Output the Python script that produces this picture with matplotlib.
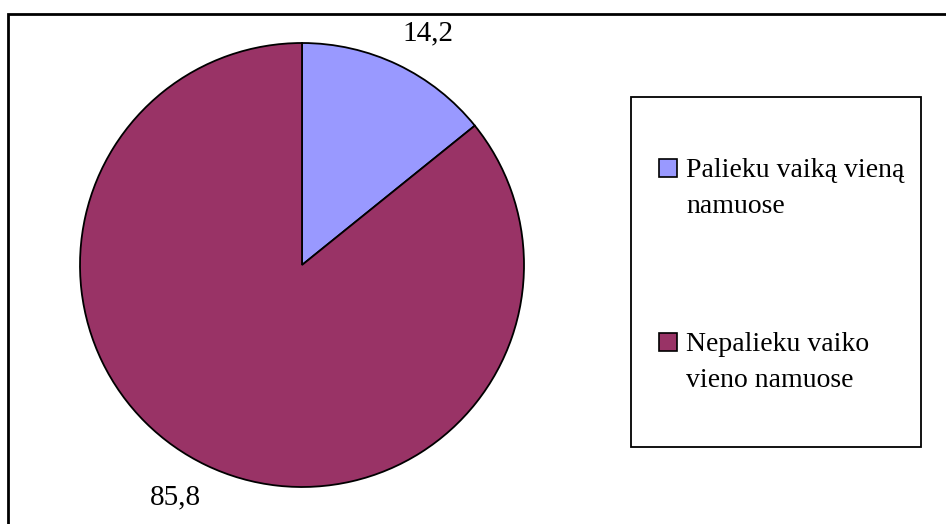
import numpy as np
import matplotlib.pyplot as plt
from matplotlib.patches import Rectangle

labels = ['Palieku vaiką vieną\nnamuose', 'Nepalieku vaiko\nvieno namuose']
values = [14.2, 85.8]
value_text = ['14,2', '85,8']
colors = ['#9999FF', '#993366']

plt.rcParams['font.family'] = ['Liberation Serif', 'DejaVu Serif']

W, H = 946, 524
fig = plt.figure(figsize=(W / 100, H / 100), dpi=100)

# outer chart border (only top and left visible)
fig.patches.append(Rectangle((8 / W, 1 - 540 / H), 960 / W, 526 / H,
                             transform=fig.transFigure, fill=False,
                             edgecolor='black', linewidth=2))

cx, cy, r = 302, 265, 222
ax = fig.add_axes([(cx - r) / W, (H - cy - r) / H, 2 * r / W, 2 * r / H])
wedges, texts = ax.pie(values, labels=value_text, colors=colors,
                       startangle=90, counterclock=False,
                       wedgeprops=dict(edgecolor='black', linewidth=1.3),
                       textprops=dict(fontsize=21))
# excel puts the value labels a bit clockwise of the wedge middle
for w, t in zip(wedges, texts):
    ang = np.deg2rad((w.theta1 + w.theta2) / 2 - 3)
    t.set_position((1.19 * np.cos(ang), 1.19 * np.sin(ang)))
    t.set_ha('center')
    t.set_va('center')
ax.set_xlim(-1, 1)
ax.set_ylim(-1, 1)
ax.set_aspect('equal')

# legend box drawn by hand
fig.patches.append(Rectangle((631 / W, 1 - 447 / H), 290 / W, 350 / H,
                             transform=fig.transFigure, fill=False,
                             edgecolor='black', linewidth=1.3))
for i, (lab, col) in enumerate(zip(labels, colors)):
    top = 159 + i * 174
    fig.patches.append(Rectangle((659 / W, 1 - (top + 18) / H), 18 / W, 18 / H,
                                 transform=fig.transFigure, facecolor=col,
                                 edgecolor='black', linewidth=1.2))
    fig.text(686 / W, 1 - (top - 1) / H, lab, fontsize=20, ha='left', va='top',
             linespacing=1.6)

fig.savefig('out.png', dpi=100)
